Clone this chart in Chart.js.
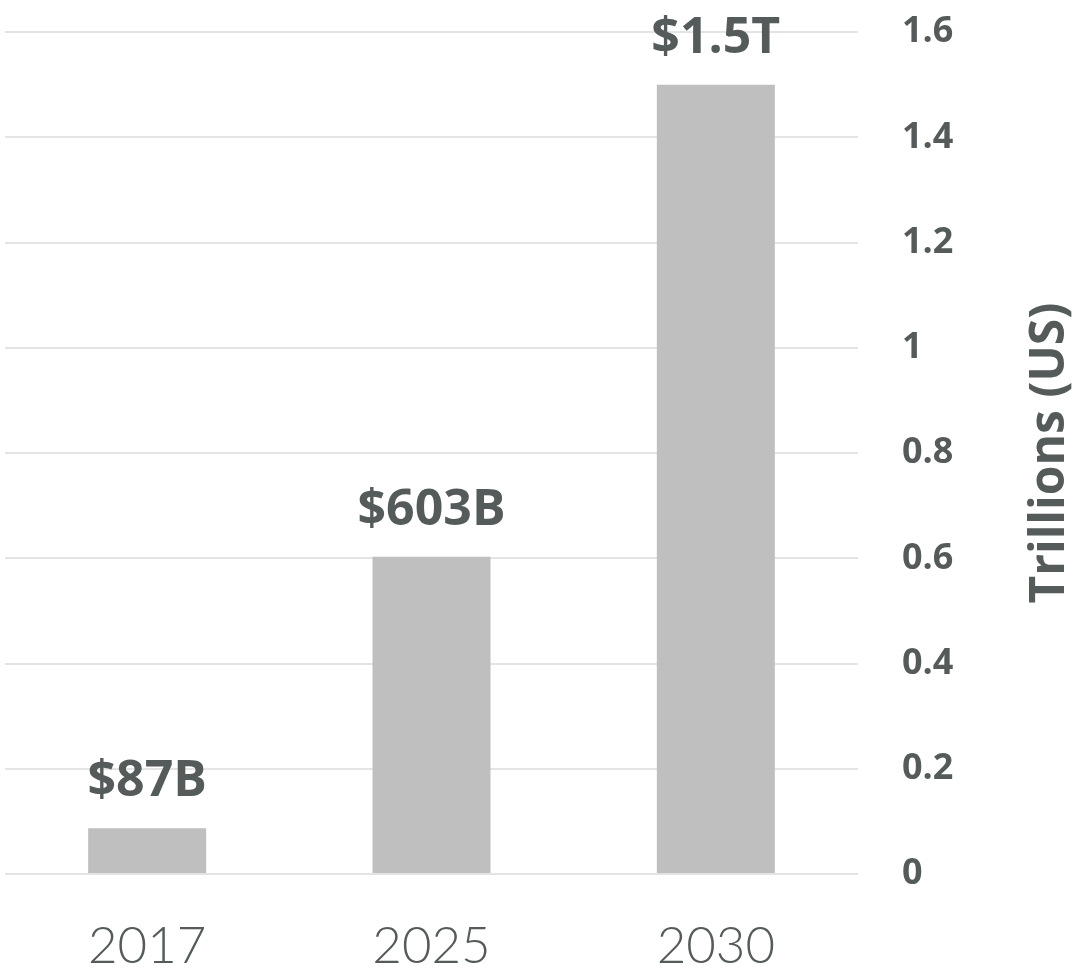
<!DOCTYPE html>
<html>
<head>
<meta charset="utf-8">
<script src="https://cdn.jsdelivr.net/npm/chart.js@4"></script>
<style>
  html, body { margin: 0; padding: 0; background: #fff; }
  #box { width: 1074px; height: 976px; }
</style>
</head>
<body>
<div id="box"><canvas id="grafico"></canvas></div>
<script>
const anos = ["2017", "2025", "2030"];
const valores = [0.087, 0.603, 1.5];
const rotulos = ["$87B", "$603B", "$1.5T"];
const tituloEixo = "Trillions (US)";

const corTexto = "#555b5b";

// rótulos acima das barras + título do eixo (lido de baixo para cima)
const rotulosPlugin = {
  id: "rotulos",
  afterDatasetsDraw(chart) {
    const c = chart.ctx;
    const meta = chart.getDatasetMeta(0);
    c.save();
    c.fillStyle = corTexto;
    c.font = "bold 50px 'Open Sans'";
    c.textAlign = "center";
    c.textBaseline = "alphabetic";
    meta.data.forEach((bar, i) => {
      c.fillText(rotulos[i], bar.x, bar.y - 32);
    });
    c.font = "bold 48px 'Open Sans'";
    c.translate(1050, (chart.chartArea.top + chart.chartArea.bottom) / 2);
    c.rotate(-Math.PI / 2);
    c.textBaseline = "middle";
    c.fillText(tituloEixo, 0, 0);
    c.restore();
  }
};

new Chart(document.getElementById("grafico"), {
  type: "bar",
  data: {
    labels: anos,
    datasets: [{
      data: valores,
      backgroundColor: "#bfbfbf",
      barPercentage: 0.415,
      categoryPercentage: 1
    }]
  },
  options: {
    responsive: true,
    maintainAspectRatio: false,
    animation: false,
    layout: { padding: { left: 5, top: 32, right: 0, bottom: 0 } },
    plugins: { legend: { display: false }, tooltip: { enabled: false } },
    scales: {
      x: {
        grid: { display: false },
        border: { display: false },
        ticks: { color: corTexto, font: { family: "Lato", weight: "300", size: 51 }, padding: 34 },
        afterFit(s) { s.height = 102; }
      },
      y: {
        position: "right",
        min: 0,
        max: 1.6,
        grid: { color: "#e4e4e4", lineWidth: 2, drawTicks: false },
        border: { display: false },
        ticks: {
          stepSize: 0.2,
          color: corTexto,
          font: { family: "Open Sans", weight: "bold", size: 36 },
          padding: 44,
          callback: (v) => Math.round(v * 10) / 10
        },
        afterFit(s) { s.width = 216; s.paddingTop = 0; s.paddingBottom = 0; }
      }
    }
  },
  plugins: [rotulosPlugin]
});
</script>
</body>
</html>
